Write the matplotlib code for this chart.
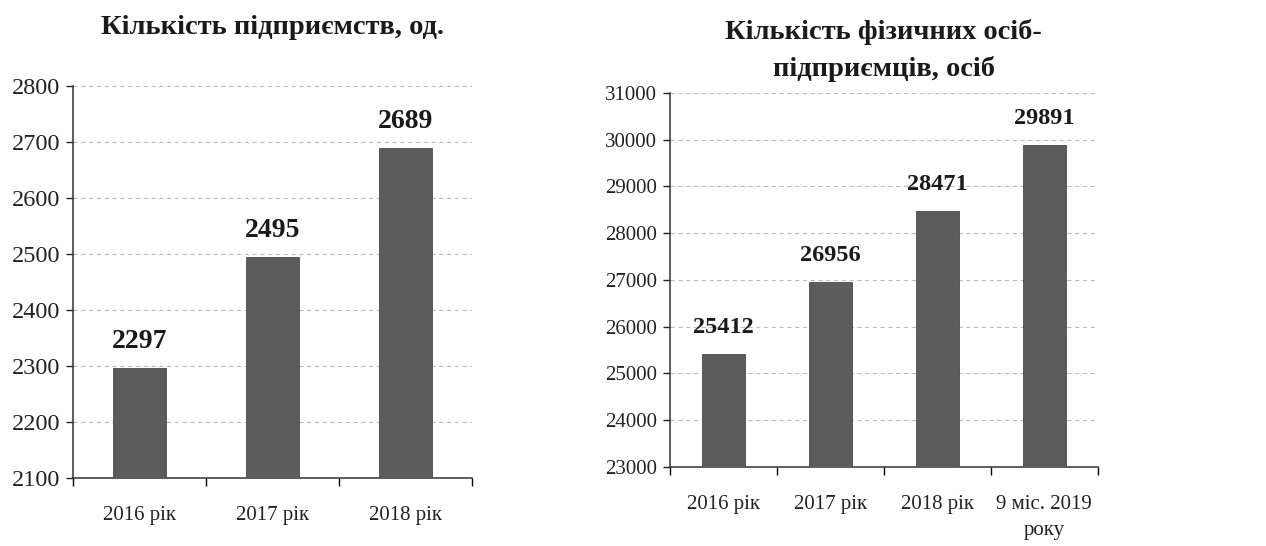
import numpy as np
import matplotlib.pyplot as plt

# дані
roky_1 = ['2016 рік', '2017 рік', '2018 рік']
pidpryiemstva = [2297, 2495, 2689]

roky_2 = ['2016 рік', '2017 рік', '2018 рік', '9 міс. 2019\nроку']
fop = [25412, 26956, 28471, 29891]

plt.rcParams['font.family'] = ['Liberation Serif', 'DejaVu Serif']

fig = plt.figure(figsize=(12.66, 5.46), dpi=100)
ax1 = fig.add_axes([0.0577, 0.1245, 0.3153, 0.718])
ax2 = fig.add_axes([0.529, 0.1447, 0.338, 0.6853])


def malyuj(ax, kategorii, znachennya, ylim, krok, ts, vs, title, tly):
    x = np.arange(len(kategorii))
    ax.bar(x, znachennya, width=0.4, color='#5c5c5c', edgecolor='#4a4a4a',
           linewidth=0.6, zorder=3)
    ax.set_xlim(-0.5, len(kategorii) - 0.5)
    ax.set_ylim(*ylim)
    ax.set_yticks(np.arange(ylim[0], ylim[1] + 1, krok))
    ax.set_xticks(x)
    ax.set_xticklabels(kategorii, fontsize=15, color='#222222', linespacing=1.5)
    ax.set_xticks(np.arange(-0.5, len(kategorii), 1), minor=True)
    ax.tick_params(axis='x', which='major', length=0, pad=20)
    ax.tick_params(axis='x', which='minor', length=6, width=1, direction='out')
    ax.tick_params(axis='y', length=5, width=1, labelsize=ts, colors='#222222', pad=4)
    ax.yaxis.grid(True, linestyle=(0, (4, 3)), color='#bdbdbd', linewidth=0.8, zorder=0)
    for s in ['top', 'right']:
        ax.spines[s].set_visible(False)
    for s in ['left', 'bottom']:
        ax.spines[s].set_color('#333333')
        ax.spines[s].set_linewidth(1.1)
    for xi, v in zip(x, znachennya):
        ax.annotate(str(v), (xi, v), xytext=(0, 19), textcoords='offset points',
                    ha='center', va='center', fontsize=vs, fontweight='bold',
                    color='#1a1a1a')
    ax.text(0.5, tly, title, transform=ax.transAxes, ha='center', va='center',
            fontsize=20.5, fontweight='bold', color='#1a1a1a', linespacing=1.55)


malyuj(ax1, roky_1, pidpryiemstva, (2100, 2800), 100, 17.5, 20,
       'Кількість підприємств, од.', 1.15)
malyuj(ax2, roky_2, fop, (23000, 31000), 1000, 15, 17.5,
       'Кількість фізичних осіб-\nпідприємців, осіб', 1.112)

fig.savefig('out.png', dpi=100)
